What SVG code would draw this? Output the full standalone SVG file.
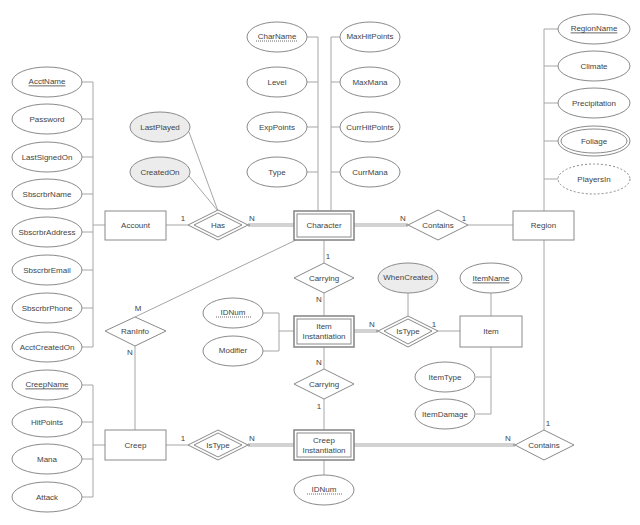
<svg xmlns="http://www.w3.org/2000/svg" width="640" height="525" viewBox="0 0 640 525">
<style>
.e{fill:#fff;stroke:#8a8a8a;stroke-width:1}
.g{fill:#ececec;stroke:#8a8a8a;stroke-width:1}
.r{fill:#fff;stroke:#8a8a8a;stroke-width:1}
.ro{fill:#fff;stroke:#8a8a8a;stroke-width:1.6}
.ri{fill:none;stroke:#8a8a8a;stroke-width:1}
.l{fill:none;stroke:#a6a6a6;stroke-width:1}
.dbl{fill:none;stroke:#a6a6a6;stroke-width:3.2}
.dblw{fill:none;stroke:#fff;stroke-width:1}
.t{font-family:"Liberation Sans",Arial,sans-serif;font-size:8px;fill:#444;text-anchor:middle;dominant-baseline:central}
.u{text-decoration:underline}
.du{stroke:#444;stroke-width:0.8;stroke-dasharray:1,1}
</style>
<rect width="640" height="525" fill="#fff"/>
<g id="connectors">
<path class="l" d="M93,82V347M82,82H93M82,119H93M82,157H93M82,194H93M82,232H93M82,270H93M82,308H93M82,347H93M93,225H105"/>
<path class="l" d="M93,385V497M82,385H93M82,422H93M82,459H93M82,497H93M93,445H105"/>
<path class="l" d="M318,37V211M307,37H318M307,82H318M307,127H318M307,172H318"/>
<path class="l" d="M331,37V211M331,37H340M331,82H340M331,127H340M331,172H340"/>
<path class="l" d="M544,29V211M544,29H558M544,66H558M544,103H558M544,141H558M544,179H558M544,240V430"/>
<path class="l" d="M166,225H188M189,132L218,211M189,176L218,211"/>
<path class="l" d="M468,225H513"/>
<path class="l" d="M324,240V263M324,293V316M324,347V369M324,399V430M324,460V475"/>
<path class="l" d="M135,317L296,240M135,346V430"/>
<path class="l" d="M263,313H279M263,351H279M279,313V351M279,331H294"/>
<path class="l" d="M438,331H460M408,293V316M491,293V316M491,347V414M476,377H491M476,414H491"/>
<path class="l" d="M166,445H188"/>
<path class="dbl" d="M248,225H294M354,225H408M354,331H378M248,445H294M354,445H515"/>
<path class="dblw" d="M250,225H294M354,225H406M354,331H376M250,445H294M354,445H513"/>
</g>
<g id="labels">
<text class="t" x="183" y="218">1</text>
<text class="t" x="252" y="218">N</text>
<text class="t" x="403" y="218">N</text>
<text class="t" x="464" y="218">1</text>
<text class="t" x="328" y="256">1</text>
<text class="t" x="319" y="299">N</text>
<text class="t" x="372" y="324">N</text>
<text class="t" x="434" y="324">1</text>
<text class="t" x="319" y="362">N</text>
<text class="t" x="319" y="406">1</text>
<text class="t" x="138" y="308">M</text>
<text class="t" x="130" y="352">N</text>
<text class="t" x="183" y="438">1</text>
<text class="t" x="252" y="438">N</text>
<text class="t" x="508" y="438">N</text>
<text class="t" x="548" y="423">1</text>
</g>
<g id="Account"><rect class="r" x="105" y="211" width="61" height="29"/><text class="t" x="135.5" y="225.5">Account</text></g>
<g id="AcctName"><ellipse class="e" cx="47" cy="82" rx="35" ry="15"/><text class="t u" x="47" y="81">AcctName</text></g>
<g id="Password"><ellipse class="e" cx="47" cy="119" rx="35" ry="15"/><text class="t" x="47" y="119">Password</text></g>
<g id="LastSignedOn"><ellipse class="e" cx="47" cy="157" rx="35" ry="15"/><text class="t" x="47" y="157">LastSignedOn</text></g>
<g id="SbscrbrName"><ellipse class="e" cx="47" cy="194" rx="35" ry="15"/><text class="t" x="47" y="194">SbscrbrName</text></g>
<g id="SbscrbrAddress"><ellipse class="e" cx="47" cy="232" rx="35" ry="15"/><text class="t" x="47" y="232">SbscrbrAddress</text></g>
<g id="SbscrbrEmail"><ellipse class="e" cx="47" cy="270" rx="35" ry="15"/><text class="t" x="47" y="270">SbscrbrEmail</text></g>
<g id="SbscrbrPhone"><ellipse class="e" cx="47" cy="308" rx="35" ry="15"/><text class="t" x="47" y="308">SbscrbrPhone</text></g>
<g id="AcctCreatedOn"><ellipse class="e" cx="47" cy="347" rx="35" ry="15"/><text class="t" x="47" y="347">AcctCreatedOn</text></g>
<g id="LastPlayed"><ellipse class="g" cx="160" cy="127" rx="30" ry="15"/><text class="t" x="160" y="127">LastPlayed</text></g>
<g id="CreatedOn"><ellipse class="g" cx="160" cy="172" rx="30" ry="15"/><text class="t" x="160" y="172">CreatedOn</text></g>
<g id="Has"><polygon class="e" points="188,225 218,210 248,225 218,240"/><polygon class="ri" points="194,225 218,213 242,225 218,237"/><text class="t" x="218" y="225">Has</text></g>
<g id="Character"><rect class="ro" x="294" y="211" width="60" height="29"/><rect class="ri" x="297" y="214" width="54" height="23"/><text class="t" x="324" y="225.5">Character</text></g>
<g id="CharName"><ellipse class="e" cx="277" cy="37" rx="30" ry="15"/><text class="t" x="277" y="36">CharName</text><line class="du" x1="256" y1="41" x2="297" y2="41"/></g>
<g id="Level"><ellipse class="e" cx="277" cy="82" rx="30" ry="15"/><text class="t" x="277" y="82">Level</text></g>
<g id="ExpPoints"><ellipse class="e" cx="277" cy="127" rx="30" ry="15"/><text class="t" x="277" y="127">ExpPoints</text></g>
<g id="Type"><ellipse class="e" cx="277" cy="172" rx="30" ry="15"/><text class="t" x="277" y="172">Type</text></g>
<g id="MaxHitPoints"><ellipse class="e" cx="370" cy="37" rx="30" ry="15"/><text class="t" x="370" y="36">MaxHitPoints</text></g>
<g id="MaxMana"><ellipse class="e" cx="370" cy="82" rx="30" ry="15"/><text class="t" x="370" y="82">MaxMana</text></g>
<g id="CurrHitPoints"><ellipse class="e" cx="370" cy="127" rx="30" ry="15"/><text class="t" x="370" y="127">CurrHitPoints</text></g>
<g id="CurrMana"><ellipse class="e" cx="370" cy="172" rx="30" ry="15"/><text class="t" x="370" y="172">CurrMana</text></g>
<g id="ContainsTop"><polygon class="e" points="408,225 438,210 468,225 438,240"/><text class="t" x="438" y="225">Contains</text></g>
<g id="Region"><rect class="r" x="513" y="211" width="61" height="29"/><text class="t" x="543.5" y="225.5">Region</text></g>
<g id="RegionName"><ellipse class="e" cx="594" cy="29" rx="36" ry="15"/><text class="t u" x="594" y="28">RegionName</text></g>
<g id="Climate"><ellipse class="e" cx="594" cy="66" rx="36" ry="15"/><text class="t" x="594" y="66">Climate</text></g>
<g id="Precipitation"><ellipse class="e" cx="594" cy="103" rx="36" ry="15"/><text class="t" x="594" y="103">Precipitation</text></g>
<g id="Foliage"><ellipse class="e" cx="594" cy="141" rx="36" ry="15"/><ellipse class="ri" cx="594" cy="141" rx="33" ry="12"/><text class="t" x="594" y="141">Foliage</text></g>
<g id="PlayersIn"><ellipse class="e" cx="594" cy="179" rx="36" ry="15" stroke-dasharray="2,2"/><text class="t" x="594" y="179">PlayersIn</text></g>
<g id="CarryingTop"><polygon class="e" points="294,278 324,263 354,278 324,293"/><text class="t" x="324" y="278">Carrying</text></g>
<g id="ItemInstantiation"><rect class="ro" x="294" y="316" width="60" height="31"/><rect class="ri" x="297" y="319" width="54" height="25"/><text class="t" x="324" y="326">Item</text><text class="t" x="324" y="336">Instantiation</text></g>
<g id="IDNumItem"><ellipse class="e" cx="233" cy="313" rx="30" ry="15"/><text class="t" x="233" y="312">IDNum</text><line class="du" x1="216" y1="317" x2="251" y2="317"/></g>
<g id="Modifier"><ellipse class="e" cx="233" cy="351" rx="30" ry="15"/><text class="t" x="233" y="350">Modifier</text></g>
<g id="IsTypeItem"><polygon class="e" points="378,331 408,316 438,331 408,347"/><polygon class="ri" points="384,331 408,319 432,331 408,344"/><text class="t" x="408" y="331">IsType</text></g>
<g id="WhenCreated"><ellipse class="g" cx="408" cy="278" rx="30" ry="15"/><text class="t" x="408" y="277">WhenCreated</text></g>
<g id="Item"><rect class="r" x="460" y="316" width="62" height="31"/><text class="t" x="491" y="331">Item</text></g>
<g id="ItemName"><ellipse class="e" cx="491" cy="278" rx="31" ry="15"/><text class="t u" x="491" y="278">ItemName</text></g>
<g id="ItemType"><ellipse class="e" cx="445" cy="377" rx="30" ry="15"/><text class="t" x="445" y="377">ItemType</text></g>
<g id="ItemDamage"><ellipse class="e" cx="445" cy="414" rx="30" ry="15"/><text class="t" x="445" y="414">ItemDamage</text></g>
<g id="CarryingBottom"><polygon class="e" points="294,384 324,369 354,384 324,399"/><text class="t" x="324" y="384">Carrying</text></g>
<g id="RanInfo"><polygon class="e" points="105,331 135,317 166,331 135,346"/><text class="t" x="135" y="331">RanInfo</text></g>
<g id="Creep"><rect class="r" x="105" y="430" width="61" height="30"/><text class="t" x="135.5" y="445">Creep</text></g>
<g id="CreepName"><ellipse class="e" cx="47" cy="385" rx="35" ry="15"/><text class="t u" x="47" y="384">CreepName</text></g>
<g id="HitPoints"><ellipse class="e" cx="47" cy="422" rx="35" ry="15"/><text class="t" x="47" y="422">HitPoints</text></g>
<g id="Mana"><ellipse class="e" cx="47" cy="459" rx="35" ry="15"/><text class="t" x="47" y="459">Mana</text></g>
<g id="Attack"><ellipse class="e" cx="47" cy="497" rx="35" ry="15"/><text class="t" x="47" y="497">Attack</text></g>
<g id="IsTypeCreep"><polygon class="e" points="188,445 218,430 248,445 218,460"/><polygon class="ri" points="194,445 218,433 242,445 218,457"/><text class="t" x="218" y="445">IsType</text></g>
<g id="CreepInstantiation"><rect class="ro" x="294" y="430" width="60" height="30"/><rect class="ri" x="297" y="433" width="54" height="24"/><text class="t" x="324" y="440">Creep</text><text class="t" x="324" y="450">Instantiation</text></g>
<g id="IDNumCreep"><ellipse class="e" cx="324" cy="490" rx="30" ry="15"/><text class="t" x="324" y="489">IDNum</text><line class="du" x1="307" y1="494" x2="342" y2="494"/></g>
<g id="ContainsBottom"><polygon class="e" points="515,445 544,430 574,445 544,460"/><text class="t" x="544" y="445">Contains</text></g>
</svg>
